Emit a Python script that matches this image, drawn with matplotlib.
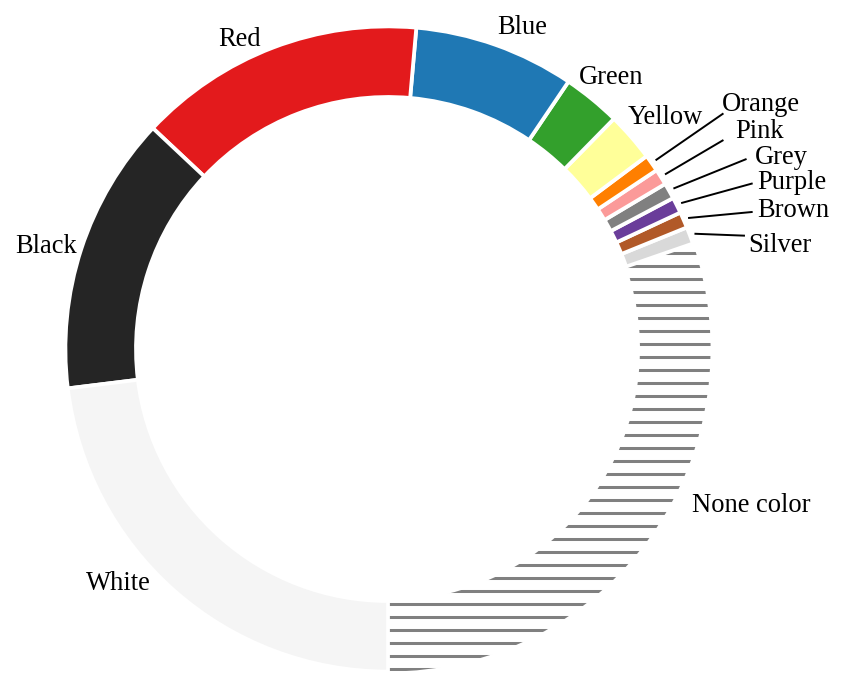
import numpy as np
import matplotlib
matplotlib.use("Agg")
import matplotlib.pyplot as plt

# ---- data ----
categories = ["None color", "Silver", "Brown", "Purple", "Grey", "Pink", "Orange",
              "Yellow", "Green", "Blue", "Red", "Black", "White"]
shares = [30.3, 0.85, 0.8, 0.8, 0.8, 0.8, 0.85, 2.45, 2.9, 8.05, 14.4, 13.95, 23.05]
colors = ["#ffffff", "#d9d9d9", "#b15928", "#6a3d9a", "#808080", "#fb9a99", "#ff7f00",
          "#ffff99", "#33a02c", "#1f78b4", "#e31a1c", "#252525", "#f5f5f5"]

# label text positions (units of outer radius) and alignment
label_pos = {
    "Red": (-0.461, 0.963, "center"),
    "Blue": (0.417, 1.000, "center"),
    "Green": (0.695, 0.847, "center"),
    "Yellow": (0.863, 0.720, "center"),
    "Orange": (1.040, 0.763, "left"),
    "Pink": (1.081, 0.679, "left"),
    "Grey": (1.143, 0.598, "left"),
    "Purple": (1.150, 0.520, "left"),
    "Brown": (1.150, 0.430, "left"),
    "Silver": (1.121, 0.321, "left"),
    "None color": (0.947, -0.489, "left"),
    "White": (-0.841, -0.732, "center"),
    "Black": (-1.065, 0.318, "center"),
}
# leader line end points for the thin slices
leader_end = {
    "Orange": (1.045, 0.734),
    "Pink": (1.045, 0.651),
    "Grey": (1.117, 0.592),
    "Purple": (1.136, 0.516),
    "Brown": (1.136, 0.427),
    "Silver": (1.112, 0.353),
}

DPI = 78
plt.rcParams["hatch.linewidth"] = 2.8
plt.rcParams["font.family"] = ["Liberation Serif", "DejaVu Serif"]

fig = plt.figure(figsize=(847 / DPI, 676 / DPI), dpi=DPI)
ax = fig.add_axes([0, 0, 1, 1])

wedges, _ = ax.pie(shares, colors=colors, startangle=-90, counterclock=True,
                   radius=1.005,
                   wedgeprops=dict(width=0.22, edgecolor="white", linewidth=3.5))

ax.set_xlim(-1.2087, 1.4299)
ax.set_ylim(-1.0187, 1.0872)
ax.set_aspect("equal")
ax.axis("off")

# hatched "None color" slice
w0 = wedges[0]
w0.set_facecolor("white")
w0.set_edgecolor("#808080")
w0.set_linewidth(0)
w0.set_hatch("-")
w0.set_zorder(0.5)

for w, name in zip(wedges, categories):
    x, y, ha = label_pos[name]
    ax.text(x, y, name, ha=ha, va="center", fontsize=24.5, color="black")
    if name in leader_end:
        mid = np.deg2rad((w.theta1 + w.theta2) / 2)
        sx, sy = 1.02 * np.cos(mid), 1.02 * np.sin(mid)
        ex, ey = leader_end[name]
        ax.plot([sx, ex], [sy, ey], color="black", lw=1.8, solid_capstyle="butt")

fig.savefig("out.png", dpi=DPI)
